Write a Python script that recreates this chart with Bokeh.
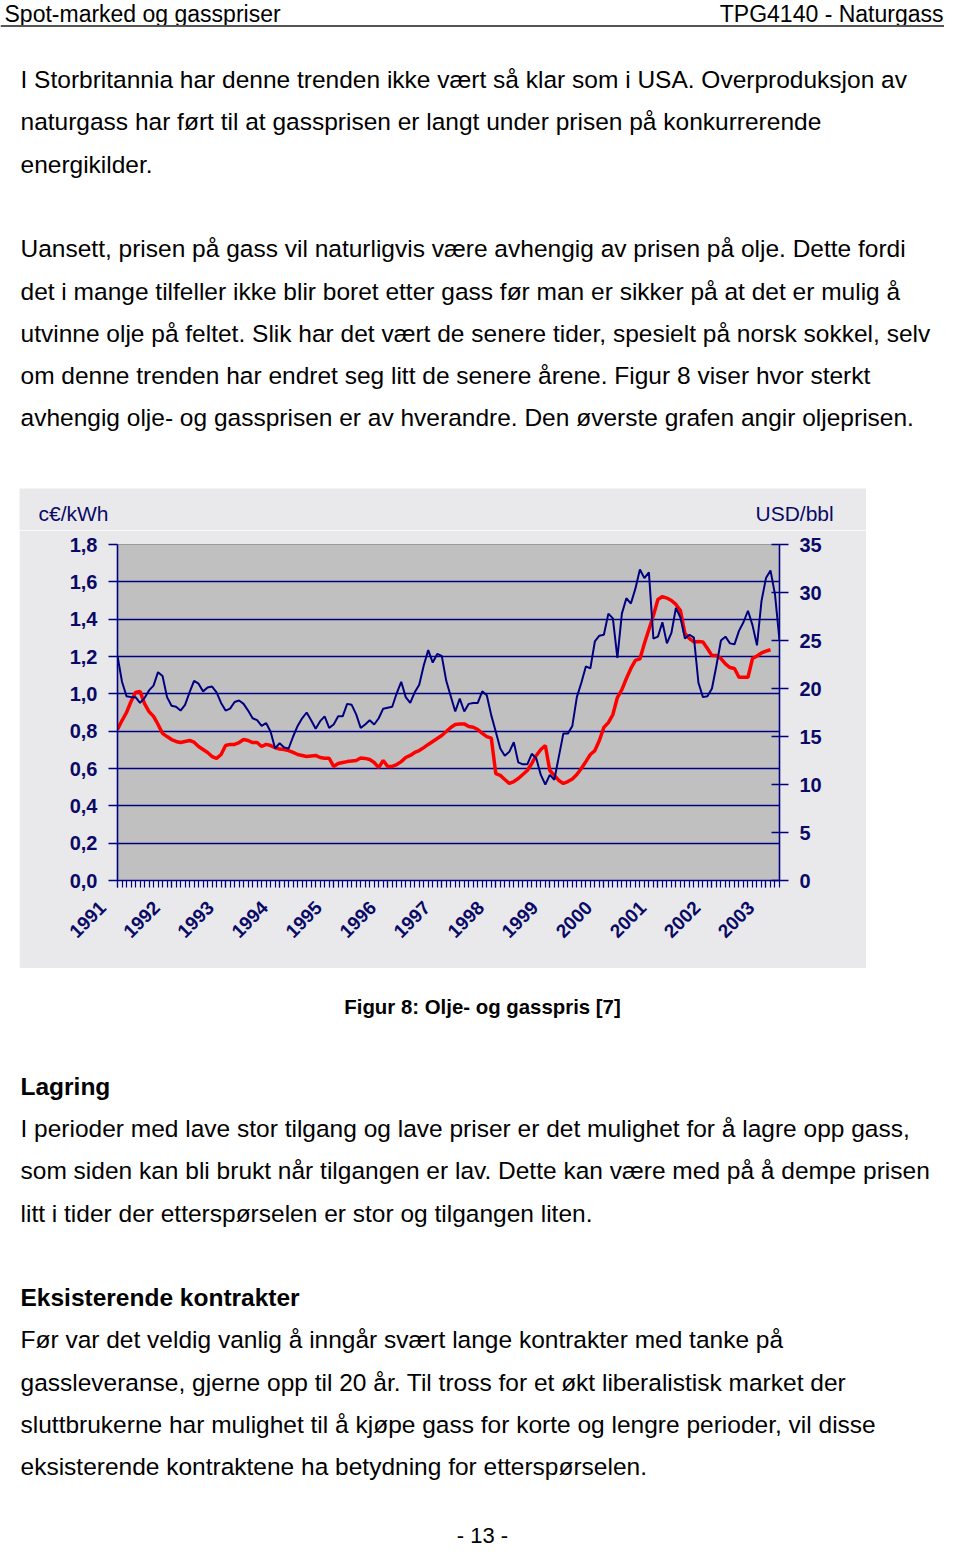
import math
from bokeh.plotting import figure
from bokeh.models import Range1d, LinearAxis, FixedTicker, CustomJSTickFormatter, Spacer
from bokeh.layouts import column, row
from bokeh.embed import file_html
from bokeh.resources import INLINE
from bokeh.core.properties import value

# ---------------- data ----------------
years = ["1991", "1992", "1993", "1994", "1995", "1996", "1997",
         "1998", "1999", "2000", "2001", "2002", "2003"]

# Oil price, USD/bbl, monthly from Jan 1991 (blue, right axis)
oil_usd_bbl = [
    23.4, 20.7, 19.2, 19.1, 19.1, 18.5, 19.0, 19.8, 20.3, 21.7, 21.3, 19.1,
    18.2, 18.1, 17.7, 18.3, 19.6, 20.8, 20.5, 19.7, 20.1, 20.2, 19.6, 18.5,
    17.7, 17.9, 18.6, 18.75, 18.4, 17.7, 16.9, 16.7, 16.1, 16.4, 15.5, 13.75,
    14.3, 13.85, 13.75, 15.0, 16.1, 16.9, 17.5, 16.7, 15.8, 16.6, 17.1, 15.9,
    16.25, 17.1, 17.1, 18.4, 18.3, 17.3, 15.9, 16.25, 16.7, 16.25, 16.9, 17.9,
    18.0, 18.1, 19.5, 20.7, 19.1, 18.5, 19.6, 20.4, 22.4, 24.0, 22.7, 23.6,
    23.4, 20.8, 19.2, 17.6, 18.95, 17.6, 18.4, 18.5, 18.5, 19.7, 19.3, 17.2,
    15.5, 13.75, 13.0, 13.4, 14.4, 12.3, 12.1, 12.1, 13.2, 12.7, 11.0, 10.0,
    11.0, 10.5, 12.9, 15.3, 15.3, 16.1, 19.1, 20.6, 22.3, 22.1, 24.9, 25.5,
    25.6, 27.8, 27.3, 23.2, 27.8, 29.4, 28.85, 30.4, 32.4, 31.5, 32.1, 25.2,
    25.4, 26.9, 24.7, 25.8, 28.4, 27.4, 25.2, 25.6, 25.3, 20.6, 19.1, 19.2,
    20.0, 22.4, 25.0, 25.4, 24.7, 24.6, 26.0, 26.9, 28.1, 26.6, 24.5, 29.1,
    31.5, 32.3, 29.8, 25.0,
]

# Gas price, c€/kWh, monthly from Jan 1991 (red, left axis)
gas_ceur_kwh = [
    0.809, 0.857, 0.900, 0.959, 1.007, 1.013, 0.948, 0.905, 0.879, 0.836, 0.788, 0.771,
    0.755, 0.745, 0.739, 0.745, 0.750, 0.741, 0.718, 0.702, 0.686, 0.664, 0.654, 0.675,
    0.723, 0.729, 0.729, 0.739, 0.755, 0.750, 0.739, 0.739, 0.718, 0.729, 0.723, 0.712,
    0.704, 0.702, 0.696, 0.686, 0.675, 0.670, 0.664, 0.667, 0.670, 0.659, 0.655, 0.655,
    0.611, 0.627, 0.632, 0.637, 0.640, 0.643, 0.656, 0.654, 0.648, 0.632, 0.605, 0.643,
    0.611, 0.611, 0.621, 0.637, 0.659, 0.670, 0.686, 0.696, 0.712, 0.729, 0.745, 0.761,
    0.777, 0.798, 0.820, 0.836, 0.838, 0.839, 0.825, 0.821, 0.809, 0.788, 0.771, 0.763,
    0.573, 0.563, 0.541, 0.520, 0.530, 0.546, 0.568, 0.589, 0.627, 0.670, 0.702, 0.723,
    0.589, 0.563, 0.536, 0.520, 0.530, 0.544, 0.568, 0.600, 0.637, 0.675, 0.696, 0.750,
    0.820, 0.846, 0.889, 0.980, 1.023, 1.082, 1.136, 1.179, 1.187, 1.270, 1.345, 1.420,
    1.505, 1.521, 1.513, 1.500, 1.479, 1.446, 1.323, 1.296, 1.278, 1.280, 1.278, 1.243,
    1.205, 1.205, 1.189, 1.160, 1.141, 1.136, 1.089, 1.089, 1.089, 1.189, 1.203, 1.219,
    1.229, 1.236,
]

gas_ticks = [0.0, 0.2, 0.4, 0.6, 0.8, 1.0, 1.2, 1.4, 1.6, 1.8]
oil_ticks = [0, 5, 10, 15, 20, 25, 30, 35]
unit_left = "c€/kWh"
unit_right = "USD/bbl"

header_left = "Spot-marked og gasspriser"
header_right = "TPG4140 - Naturgass"

top_lines = [
    "I Storbritannia har denne trenden ikke vært så klar som i USA. Overproduksjon av",
    "naturgass har ført til at gassprisen er langt under prisen på konkurrerende",
    "energikilder.",
    "Uansett, prisen på gass vil naturligvis være avhengig av prisen på olje. Dette fordi",
    "det i mange tilfeller ikke blir boret etter gass før man er sikker på at det er mulig å",
    "utvinne olje på feltet. Slik har det vært de senere tider, spesielt på norsk sokkel, selv",
    "om denne trenden har endret seg litt de senere årene. Figur 8 viser hvor sterkt",
    "avhengig olje- og gassprisen er av hverandre. Den øverste grafen angir oljeprisen.",
]
caption = "Figur 8: Olje- og gasspris [7]"
heading1 = "Lagring"
para1 = [
    "I perioder med lave stor tilgang og lave priser er det mulighet for å lagre opp gass,",
    "som siden kan bli brukt når tilgangen er lav. Dette kan være med på å dempe prisen",
    "litt i tider der etterspørselen er stor og tilgangen liten.",
]
heading2 = "Eksisterende kontrakter"
para2 = [
    "Før var det veldig vanlig å inngår svært lange kontrakter med tanke på",
    "gassleveranse, gjerne opp til 20 år. Til tross for et økt liberalistisk market der",
    "sluttbrukerne har mulighet til å kjøpe gass for korte og lengre perioder, vil disse",
    "eksisterende kontraktene ha betydning for etterspørselen.",
]
page_no = "- 13 -"

# ---------------- styles ----------------
FONT = value("Liberation Sans")
BODY = "24.5px"
NAVY = "#000080"
LABEL_NAVY = "#0a0a66"
CHART_BG = "#e9e9eb"
W = 944
NBSP = "\u00a0"


def text_fig(w, h, bg="white"):
    f = figure(width=w, height=h, x_range=Range1d(0, w), y_range=Range1d(h, 0),
               output_backend="svg", toolbar_location=None, min_border=0,
               outline_line_color=None, background_fill_color=bg,
               border_fill_color=bg)
    f.axis.visible = False
    f.grid.visible = False
    return f


# ---------------- top text block (page y 0..488) ----------------
top = text_fig(W, 488)
top.text(x=[4], y=[0], text=[header_left], text_font=FONT, text_font_size="23px",
         text_baseline="top", text_color="black")
top.text(x=[943], y=[0], text=[header_right], text_font=FONT, text_font_size="23px",
         text_baseline="top", text_align="right", text_color="black")
top.line(x=[0, W], y=[25.5, 25.5], line_color="#555555", line_width=2)
top_y = [79, 121, 164, 248, 291, 333, 375, 417]
top.text(x=[20] * len(top_lines), y=top_y, text=top_lines, text_font=FONT,
         text_font_size=BODY, text_baseline="middle", text_color="black")

# ---------------- chart unit strip (page y 488..530) ----------------
strip = text_fig(847, 42, bg=CHART_BG)
strip.text(x=[19, 736], y=[25, 25], text=[unit_left, unit_right], text_font=FONT,
           text_font_size="21px", text_baseline="middle", text_color=LABEL_NAVY)

# ---------------- chart (page y 530..968) ----------------
months_oil = list(range(len(oil_usd_bbl)))
months_gas = list(range(len(gas_ceur_kwh)))

p = figure(width=847, height=438, x_range=Range1d(0, 147), y_range=Range1d(0, 1.8),
           output_backend="svg", toolbar_location=None,
           min_border_left=98, min_border_right=87, min_border_top=14, min_border_bottom=88,
           background_fill_color="#c0c0c0", border_fill_color=CHART_BG,
           outline_line_color="#9a9a9a", outline_line_width=1)
p.extra_y_ranges = {"oil": Range1d(0, 35)}

p.xgrid.visible = False
p.ygrid.ticker = FixedTicker(ticks=gas_ticks[1:-1])
p.ygrid.grid_line_color = NAVY
p.ygrid.grid_line_width = 1.6

# x axis: years with monthly tick marks
xa = p.xaxis[0]
xa.ticker = FixedTicker(ticks=[12 * i for i in range(len(years))],
                        minor_ticks=list(range(len(oil_usd_bbl))))
xa.major_label_overrides = {12 * i: y + NBSP * 4 for i, y in enumerate(years)}
xa.major_label_orientation = math.pi / 4
xa.axis_line_color = NAVY
xa.axis_line_width = 1.6
xa.major_tick_line_color = NAVY
xa.minor_tick_line_color = NAVY
xa.major_tick_in = 0
xa.major_tick_out = 7
xa.minor_tick_in = 0
xa.minor_tick_out = 7
xa.major_tick_line_width = 1.2
xa.minor_tick_line_width = 1.2
xa.major_label_text_font = "Liberation Sans"
xa.major_label_text_font_style = "bold"
xa.major_label_text_font_size = "19px"
xa.major_label_text_color = LABEL_NAVY
xa.major_label_standoff = 2

# left axis (gas)
ya = p.yaxis[0]
ya.ticker = FixedTicker(ticks=gas_ticks)
ya.formatter = CustomJSTickFormatter(code="return tick.toFixed(1).replace('.', ',');")
ya.axis_line_color = NAVY
ya.axis_line_width = 1.6
ya.major_tick_line_color = NAVY
ya.major_tick_line_width = 1.6
ya.major_tick_in = 0
ya.major_tick_out = 9
ya.minor_tick_line_color = None
ya.major_label_text_font = "Liberation Sans"
ya.major_label_text_font_style = "bold"
ya.major_label_text_font_size = "20px"
ya.major_label_text_color = LABEL_NAVY
ya.major_label_standoff = 11

# right axis (oil)
ra = LinearAxis(y_range_name="oil", ticker=FixedTicker(ticks=oil_ticks))
ra.axis_line_color = NAVY
ra.axis_line_width = 1.6
ra.major_tick_line_color = NAVY
ra.major_tick_line_width = 1.6
ra.major_tick_in = 8
ra.major_tick_out = 9
ra.minor_tick_line_color = None
ra.major_label_text_font = "Liberation Sans"
ra.major_label_text_font_style = "bold"
ra.major_label_text_font_size = "20px"
ra.major_label_text_color = LABEL_NAVY
ra.major_label_standoff = 11
p.add_layout(ra, "right")

p.line(x=months_gas, y=gas_ceur_kwh, line_color="#ff0000", line_width=3.5)
p.line(x=months_oil, y=oil_usd_bbl, y_range_name="oil", line_color=NAVY, line_width=2)

chart_block = column(row(Spacer(width=19, height=42), strip),
                     row(Spacer(width=19, height=438), p))

# ---------------- bottom text block (page y 968..1547) ----------------
bot = text_fig(W, 579)
bot.text(x=[482], y=[38], text=[caption], text_font=FONT, text_font_size="20.4px",
         text_font_style="bold", text_align="center", text_baseline="middle", text_color="black")
bot.text(x=[20, 20], y=[118, 329], text=[heading1, heading2], text_font=FONT,
         text_font_size=BODY, text_font_style="bold", text_baseline="middle", text_color="black")
bot.text(x=[20] * len(para1), y=[160, 202, 245], text=para1, text_font=FONT,
         text_font_size=BODY, text_baseline="middle", text_color="black")
bot.text(x=[20] * len(para2), y=[371, 414, 456, 498], text=para2, text_font=FONT,
         text_font_size=BODY, text_baseline="middle", text_color="black")
bot.text(x=[482], y=[567], text=[page_no], text_font=FONT, text_font_size="22px",
         text_align="center", text_baseline="middle", text_color="black")

layout = column(top, chart_block, bot)
open("out.html", "w").write(file_html(layout, INLINE))
